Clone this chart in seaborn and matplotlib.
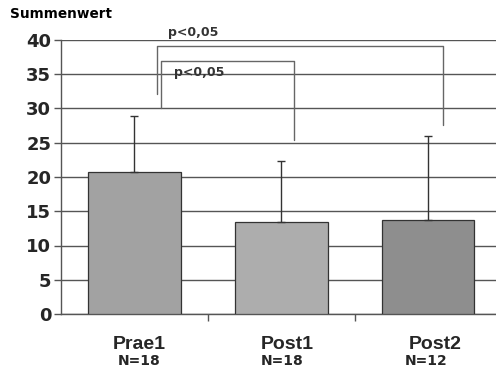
import matplotlib
matplotlib.use("Agg")
import matplotlib.pyplot as plt
import seaborn as sns
import pandas as pd
import numpy as np

categories = ["Prae1", "Post1", "Post2"]
n_labels = ["N=18", "N=18", "N=12"]
means = [20.8, 13.4, 13.7]
sd_upper = [8.1, 8.9, 12.3]
bar_colors = ["#a2a2a2", "#adadad", "#8e8e8e"]
y_ticks = [0, 5, 10, 15, 20, 25, 30, 35, 40]
p_label = "p<0,05"

sns.set_theme(style="white")
plt.rcParams['font.family'] = ['Liberation Sans', 'DejaVu Sans']

df = pd.DataFrame({"cat": categories, "val": means})

fig = plt.figure(figsize=(4.96, 3.69), dpi=100)
ax = fig.add_axes([61/496, 1-314/369, (501.5-61)/496, (314-40)/369])

sns.barplot(data=df, x="cat", y="val", hue="cat", palette=bar_colors,
            legend=False, width=0.63, edgecolor="#333333", linewidth=0.9,
            ax=ax, zorder=3, errorbar=None)

xs = np.arange(len(categories))
ax.errorbar(xs, means, yerr=[np.zeros(len(means)), sd_upper], fmt="none",
            ecolor="#333333", elinewidth=1.0, capsize=3, capthick=1.0, zorder=4)

ax.set_xlim(-0.5, 2.5)
ax.set_ylim(0, 40)
ax.set_yticks(y_ticks)
ax.set_yticklabels([str(t) for t in y_ticks], fontsize=13, fontweight="bold",
                   family="DejaVu Sans")
ax.yaxis.grid(True, color="#555555", linewidth=1.0, zorder=0)
ax.set_axisbelow(True)
for s in ["top", "right"]:
    ax.spines[s].set_visible(False)
for s in ["left", "bottom"]:
    ax.spines[s].set_visible(True)
    ax.spines[s].set_color("#555555")
    ax.spines[s].set_linewidth(1.0)
ax.tick_params(axis="y", left=True, length=5, width=1, color="#555555", pad=2)
ax.set_xticks([0.5, 1.5], minor=False)
ax.set_xticklabels(["", ""])
ax.tick_params(axis="x", bottom=True, length=5, width=1, color="#555555")
ax.set_xlabel("")
ax.set_ylabel("")

# category labels
cat_dx = [0.03, 0.04, 0.045]
n_dx = [0.03, 0.005, -0.015]
for i, (c, n) in enumerate(zip(categories, n_labels)):
    ax.text(i + cat_dx[i], -4.4, c, ha="center", va="center", fontsize=14,
            fontweight="bold", clip_on=False)
    ax.text(i + n_dx[i], -6.9, n, ha="center", va="center", fontsize=10,
            fontweight="bold", family="DejaVu Sans", clip_on=False)

fig.text(10/496, 1-14/369, "Summenwert", fontsize=9.8, fontweight="bold",
         family="DejaVu Sans", ha="left", va="center", color="black")

bc = "#666666"
# outer bracket Prae1 -> Post2
ax.plot([0.157, 0.157, 2.103, 2.103], [32.1, 39.1, 39.1, 27.6],
        color=bc, linewidth=1.0, clip_on=False, zorder=5)
ax.text(0.23, 40.2, p_label, fontsize=9, fontweight="bold", color="#333333",
        family="DejaVu Sans", ha="left", va="bottom", clip_on=False)
# inner bracket Prae1 -> Post1
ax.plot([0.184, 0.184, 1.089, 1.089], [30.1, 36.9, 36.9, 25.4],
        color=bc, linewidth=1.0, clip_on=False, zorder=5)
ax.text(0.27, 35.2, p_label, fontsize=9, fontweight="bold", color="#333333",
        family="DejaVu Sans", ha="left", va="center", clip_on=False)

fig.savefig("out.png", dpi=100)
